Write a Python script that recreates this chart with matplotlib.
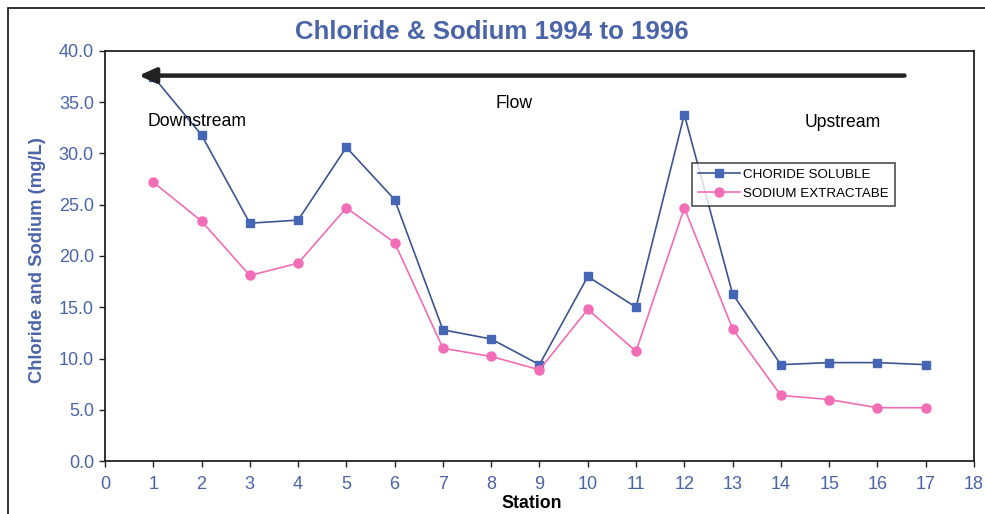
import numpy as np
from matplotlib import pyplot as plt
from matplotlib.patches import Rectangle

# Data
stations = list(range(1, 18))
chloride = [37.5, 31.8, 23.2, 23.5, 30.6, 25.5, 12.8, 11.9, 9.4, 18.0,
            15.0, 33.8, 16.3, 9.4, 9.6, 9.6, 9.4]
sodium = [27.2, 23.4, 18.1, 19.3, 24.7, 21.3, 11.0, 10.2, 8.9, 14.8,
          10.7, 24.7, 12.9, 6.4, 6.0, 5.2, 5.2]
series_labels = ['CHORIDE SOLUBLE', 'SODIUM EXTRACTABE']
x_ticks = list(range(0, 19))
y_ticks = [0, 5, 10, 15, 20, 25, 30, 35, 40]

blue_txt = '#4a64a8'
blue_line = '#3d5490'
blue_mark = '#4466b4'
pink = '#f26cb6'

plt.rcParams['font.family'] = ['Liberation Sans', 'DejaVu Sans']

fig = plt.figure(figsize=(9.85, 5.14), dpi=100)
ax = fig.add_axes([0.1066, 0.1031, 0.8822, 0.7977])

ax.plot(stations, chloride, '-', color=blue_line, lw=1.2, marker='s', ms=6,
        mfc=blue_mark, mec=blue_mark, label=series_labels[0], zorder=3)
ax.plot(stations, sodium, '-', color=pink, lw=1.2, marker='o', ms=6.5,
        mfc=pink, mec=pink, label=series_labels[1], zorder=3)

# flow arrow
ax.annotate('', xy=(0.7, 37.6), xytext=(16.56, 37.6),
            arrowprops=dict(arrowstyle='-|>,head_length=1.0,head_width=0.45',
                            color='#222222', lw=3.2, shrinkA=0, shrinkB=0), zorder=4)
ax.text(0.89, 33.1, 'Downstream', fontsize=12.7, ha='left', va='center')
ax.text(8.47, 34.9, 'Flow', fontsize=12.7, ha='center', va='center')
ax.text(15.28, 33.0, 'Upstream', fontsize=12.7, ha='center', va='center')

ax.set_xlim(0, 18)
ax.set_ylim(0, 40)
ax.set_xticks(x_ticks)
ax.set_yticks(y_ticks)
ax.set_yticklabels(['%.1f' % v for v in y_ticks])
ax.tick_params(axis='both', colors='#222222', labelcolor=blue_txt,
               labelsize=13, direction='out', length=4, width=1)
ax.tick_params(axis='x', pad=7)
ax.tick_params(axis='y', pad=4)
for s in ax.spines.values():
    s.set_linewidth(1.3)
    s.set_color('#222222')

fig.text(38 / 985, 1 - 260 / 514, 'Chloride and Sodium (mg/L)', fontsize=13.2,
         fontweight='bold', color=blue_txt, rotation=90, ha='center', va='center')
fig.text(532 / 985, 1 - 504 / 514, 'Station', fontsize=12.8, fontweight='bold',
         ha='center', va='center')
fig.text(492 / 985, 1 - 32 / 514, 'Chloride & Sodium 1994 to 1996', fontsize=18.6,
         fontweight='bold', color=blue_txt, ha='center', va='center')

leg = ax.legend(loc='upper left', bbox_to_anchor=(0.675, 0.728), fontsize=9.6,
                frameon=True, fancybox=False, edgecolor='#222222',
                borderpad=0.45, labelspacing=0.5, handlelength=3.2,
                handletextpad=0.2, borderaxespad=0)
leg.get_frame().set_linewidth(1.2)

# outer chart-area border
fig.patches.append(Rectangle((8 / 985, -0.1), 1.2, 1 - 8 / 514 + 0.1,
                             transform=fig.transFigure, fill=False,
                             edgecolor='#222222', lw=1.3))

plt.savefig('out.png', dpi=100)
